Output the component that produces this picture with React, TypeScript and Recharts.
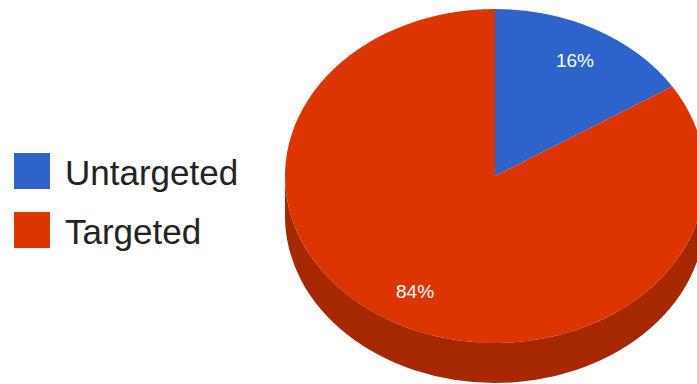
import React from 'react';
import { PieChart, Pie, Cell, Legend } from 'recharts';

const categories = ['Untargeted', 'Targeted'];
const shares = [16, 84];
const topColors = ['#2f63cc', '#dd3500'];
const sideColors = ['#1f4490', '#a62800'];

const data = categories.map((name, i) => ({ name, value: shares[i] }));

const TILT = 167 / 210; // vertical squash of the pie
const DEPTH = 40;
const RAD = Math.PI / 180;

const pt = (cx: number, cy: number, rx: number, ry: number, deg: number) => [
  cx + rx * Math.cos(deg * RAD),
  cy - ry * Math.sin(deg * RAD),
];

const TopSlice = (props: any) => {
  const { cx, cy, outerRadius, startAngle, endAngle, index } = props;
  const rx = outerRadius;
  const ry = outerRadius * TILT;
  const [x1, y1] = pt(cx, cy, rx, ry, startAngle);
  const [x2, y2] = pt(cx, cy, rx, ry, endAngle);
  const large = Math.abs(endAngle - startAngle) > 180 ? 1 : 0;
  const sweep = endAngle < startAngle ? 1 : 0;
  const d = `M${cx},${cy} L${x1},${y1} A${rx},${ry} 0 ${large} ${sweep} ${x2},${y2} Z`;
  return <path d={d} fill={topColors[index]} />;
};

const SideSlice = (props: any) => {
  const { cx, cy, outerRadius, startAngle, endAngle, index } = props;
  const rx = outerRadius;
  const ry = outerRadius * TILT;
  const lo = Math.min(startAngle, endAngle);
  const hi = Math.max(startAngle, endAngle);
  const parts: string[] = [];
  // front half of the ellipse is where sin < 0: [-180 + 360k, 360k]
  for (let k = -2; k <= 2; k++) {
    const a = Math.max(lo, -180 + 360 * k);
    const b = Math.min(hi, 360 * k);
    if (b - a <= 0.01) continue;
    const [ax, ay] = pt(cx, cy, rx, ry, a);
    const [bx, by] = pt(cx, cy, rx, ry, b);
    parts.push(
      `M${ax},${ay} A${rx},${ry} 0 0 0 ${bx},${by} L${bx},${by + DEPTH} A${rx},${ry} 0 0 1 ${ax},${ay + DEPTH} Z`
    );
  }
  if (!parts.length) return <g />;
  return <path d={parts.join(' ')} fill={sideColors[index]} />;
};

const renderLabel = (props: any) => {
  const { cx, cy, midAngle, outerRadius, percent } = props;
  const [x, y] = pt(cx, cy, outerRadius * 0.79, outerRadius * TILT * 0.79, midAngle);
  return (
    <text
      x={x}
      y={y}
      fill="#ffffff"
      fontSize={19}
      fontFamily="Arial, 'Liberation Sans', sans-serif"
      textAnchor="middle"
      dominantBaseline="central"
    >
      {`${Math.round(percent * 100)}%`}
    </text>
  );
};

const LegendContent = () => (
  <div>
    {categories.map((name, i) => (
      <div
        key={name}
        style={{ display: 'flex', alignItems: 'center', height: 36, marginBottom: i === 0 ? 23 : 0 }}
      >
        <div style={{ width: 36, height: 36, background: topColors[i] }} />
        <span
          style={{
            marginLeft: 15,
            paddingTop: 3,
            fontSize: 35,
            lineHeight: '36px',
            color: '#222222',
            fontFamily: "Arial, 'Liberation Sans', sans-serif",
            whiteSpace: 'nowrap',
          }}
        >
          {name}
        </span>
      </div>
    ))}
  </div>
);

const App: React.FC = () => (
  <div style={{ width: 697, height: 384, background: '#ffffff' }}>
    <style>{`body{margin:0}`}</style>
    <PieChart width={697} height={384} margin={{ top: 0, right: 0, bottom: 0, left: 0 }}>
      <Legend
        content={<LegendContent />}
        layout="vertical"
        align="center"
        verticalAlign="middle"
        wrapperStyle={{ left: 14, top: 153, width: 260 }}
      />
      <Pie
        data={data}
        dataKey="value"
        cx={495}
        cy={176}
        outerRadius={210}
        startAngle={90}
        endAngle={-270}
        stroke="none"
        legendType="none"
        shape={SideSlice}
        isAnimationActive={false}
      >
        {data.map((d, i) => (
          <Cell key={d.name} fill={sideColors[i]} />
        ))}
      </Pie>
      <Pie
        data={data}
        dataKey="value"
        cx={495}
        cy={176}
        outerRadius={210}
        startAngle={90}
        endAngle={-270}
        stroke="none"
        shape={TopSlice}
        label={renderLabel}
        labelLine={false}
        isAnimationActive={false}
      >
        {data.map((d, i) => (
          <Cell key={d.name} fill={topColors[i]} />
        ))}
      </Pie>
    </PieChart>
  </div>
);

export default App;
